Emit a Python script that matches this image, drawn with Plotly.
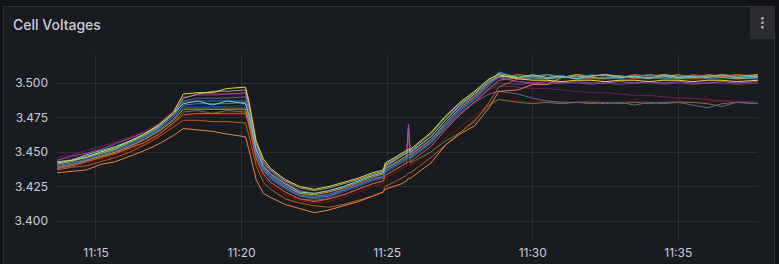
import plotly.graph_objects as go

DAY = "2024-01-01 "

# sample times (HH:MM:SS)
times = ["11:13:40", "11:14:10", "11:14:40", "11:15:10", "11:15:40", "11:16:10", "11:16:40", "11:17:10", "11:17:40",
         "11:18:00", "11:18:30", "11:19:00", "11:19:30", "11:20:08",
         "11:20:15", "11:20:30", "11:20:45", "11:21:00", "11:21:30",
         "11:22:00", "11:22:30", "11:23:00", "11:23:30", "11:24:00", "11:24:30", "11:24:52",
         "11:24:56", "11:25:30", "11:25:40", "11:25:44", "11:25:48",
         "11:26:30", "11:27:00", "11:27:30", "11:28:00", "11:28:30", "11:28:50",
         "11:29:30", "11:30:00", "11:30:30", "11:31:00", "11:31:30", "11:32:00", "11:32:30", "11:33:00",
         "11:33:30", "11:34:00", "11:34:30", "11:35:00", "11:35:30", "11:36:00", "11:36:30", "11:37:00", "11:37:44"]

# cell voltages in mV
cell_dred = [3437, 3439, 3442, 3445, 3448, 3452, 3456, 3462, 3470,
             3476, 3477, 3477, 3477, 3477,
             3468, 3443, 3432, 3426, 3419,
             3415, 3413, 3414, 3417, 3421, 3425, 3427,
             3431, 3438, 3440, 3466, 3440,
             3450, 3460, 3468, 3476, 3485, 3488,
             3487, 3486, 3487, 3486, 3486, 3487, 3486, 3486, 3487, 3486, 3486, 3487, 3486, 3486, 3487, 3486, 3486]
cell_navy = [3440, 3442, 3445, 3448, 3451, 3455, 3459, 3465, 3473,
             3482, 3483, 3483, 3483, 3484,
             3475, 3448, 3436, 3430, 3424,
             3418, 3416, 3418, 3421, 3425, 3429, 3431,
             3435, 3442, 3444, 3445, 3445,
             3456, 3468, 3479, 3487, 3497, 3502,
             3503, 3503, 3502, 3503, 3503, 3502, 3503, 3503, 3502, 3503, 3503, 3502, 3503, 3502, 3503, 3503, 3502]
cell_dgreen = [3438, 3440, 3443, 3446, 3449, 3453, 3457, 3463, 3471,
               3479, 3480, 3478, 3480, 3479,
               3471, 3446, 3434, 3428, 3421,
               3416, 3415, 3416, 3419, 3423, 3427, 3429,
               3433, 3440, 3442, 3467, 3442,
               3450, 3458, 3464, 3473, 3484, 3488,
               3486, 3485, 3486, 3485, 3486, 3486, 3485, 3486, 3484, 3486, 3485, 3486, 3486, 3485, 3483, 3486, 3485]
cell_lavender = [3442, 3445, 3447, 3450, 3454, 3458, 3462, 3468, 3476,
                 3483, 3482, 3482, 3482, 3482,
                 3474, 3448, 3436, 3430, 3423,
                 3418, 3416, 3417, 3421, 3425, 3429, 3431,
                 3435, 3442, 3444, 3445, 3445,
                 3456, 3467, 3478, 3486, 3496, 3500,
                 3499, 3500, 3499, 3500, 3500, 3499, 3500, 3499, 3500, 3500, 3499, 3500, 3499, 3500, 3500, 3499, 3500]
cell_dmagenta = [3446, 3448, 3451, 3454, 3457, 3461, 3465, 3471, 3480,
                 3490, 3491, 3491, 3492, 3492,
                 3482, 3453, 3441, 3435, 3427,
                 3421, 3418, 3420, 3424, 3427, 3431, 3433,
                 3438, 3445, 3447, 3469, 3448,
                 3459, 3470, 3480, 3488, 3495, 3498,
                 3497, 3496, 3496, 3495, 3494, 3493, 3493, 3492, 3491, 3491, 3490, 3489, 3489, 3488, 3487, 3487, 3486]
cell_violet = [3440, 3442, 3445, 3449, 3452, 3456, 3461, 3467, 3476,
               3487, 3489, 3489, 3489, 3490,
               3480, 3451, 3439, 3433, 3426,
               3420, 3418, 3419, 3423, 3427, 3431, 3432,
               3437, 3444, 3446, 3468, 3446,
               3457, 3468, 3478, 3486, 3492, 3494,
               3492, 3489, 3487, 3486, 3486, 3485, 3486, 3485, 3486, 3485, 3486, 3486, 3484, 3482, 3485, 3486, 3485]
cell_dorange = [3437, 3439, 3440, 3443, 3446, 3450, 3455, 3461, 3468,
                3473, 3473, 3472, 3472, 3471,
                3462, 3440, 3428, 3423, 3416,
                3413, 3411, 3410, 3412, 3415, 3418, 3421,
                3425, 3431, 3433, 3435, 3435,
                3446, 3455, 3464, 3472, 3486, 3497,
                3503, 3504, 3503, 3505, 3504, 3503, 3504, 3505, 3503, 3504, 3504, 3505, 3503, 3504, 3505, 3503, 3504]
cell_orange = [3435, 3436, 3437, 3441, 3443, 3447, 3451, 3456, 3462,
               3467, 3466, 3465, 3463, 3461,
               3452, 3430, 3420, 3417, 3412,
               3409, 3406, 3408, 3411, 3414, 3418, 3421,
               3423, 3427, 3429, 3431, 3431,
               3442, 3455, 3463, 3469, 3482, 3494,
               3495, 3499, 3499, 3504, 3506, 3505, 3506, 3504, 3506, 3505, 3506, 3505, 3504, 3506, 3505, 3506, 3505]
cell_red = [3438, 3440, 3443, 3446, 3449, 3453, 3457, 3463, 3471,
            3477, 3478, 3478, 3478, 3478,
            3470, 3445, 3434, 3428, 3421,
            3416, 3414, 3416, 3419, 3423, 3427, 3429,
            3433, 3440, 3442, 3443, 3443,
            3454, 3466, 3477, 3486, 3496, 3502,
            3504, 3505, 3506, 3505, 3504, 3505, 3506, 3505, 3504, 3506, 3505, 3504, 3506, 3505, 3504, 3505, 3506]
cell_gold = [3439, 3441, 3444, 3447, 3450, 3454, 3459, 3465, 3473,
             3481, 3481, 3481, 3481, 3481,
             3473, 3449, 3438, 3432, 3425,
             3420, 3419, 3421, 3424, 3428, 3432, 3434,
             3438, 3445, 3447, 3448, 3448,
             3459, 3471, 3482, 3490, 3500, 3504,
             3506, 3505, 3506, 3504, 3506, 3505, 3506, 3505, 3504, 3506, 3505, 3506, 3504, 3505, 3506, 3505, 3506]
cell_blue2 = [3439, 3441, 3444, 3448, 3451, 3455, 3460, 3466, 3474,
              3484, 3485, 3485, 3485, 3486,
              3476, 3449, 3437, 3431, 3424,
              3418, 3417, 3418, 3422, 3426, 3430, 3432,
              3436, 3443, 3445, 3446, 3446,
              3457, 3469, 3480, 3488, 3498, 3508,
              3504, 3503, 3504, 3505, 3503, 3504, 3504, 3503, 3505, 3504, 3503, 3504, 3505, 3503, 3504, 3504, 3503]
cell_blue = [3441, 3443, 3446, 3449, 3452, 3457, 3461, 3467, 3476,
             3486, 3487, 3487, 3487, 3487,
             3478, 3450, 3438, 3432, 3425,
             3419, 3417, 3419, 3423, 3426, 3430, 3432,
             3437, 3444, 3446, 3447, 3447,
             3458, 3470, 3481, 3489, 3499, 3504,
             3505, 3504, 3506, 3505, 3504, 3506, 3505, 3504, 3505, 3506, 3504, 3505, 3505, 3504, 3506, 3505, 3504]
cell_purple = [3444, 3447, 3449, 3452, 3456, 3460, 3464, 3469, 3477,
               3489, 3492, 3492, 3492, 3493,
               3483, 3454, 3442, 3436, 3428,
               3422, 3420, 3422, 3425, 3429, 3433, 3435,
               3439, 3447, 3449, 3470, 3449,
               3461, 3473, 3483, 3491, 3500, 3504,
               3501, 3500, 3501, 3500, 3501, 3500, 3500, 3501, 3500, 3501, 3500, 3501, 3500, 3500, 3501, 3500, 3501]
cell_lightblue = [3443, 3444, 3448, 3451, 3454, 3458, 3463, 3469, 3478,
                  3485, 3487, 3484, 3487, 3485,
                  3477, 3452, 3440, 3434, 3427,
                  3421, 3420, 3422, 3425, 3429, 3433, 3435,
                  3440, 3447, 3449, 3450, 3450,
                  3461, 3473, 3484, 3492, 3501, 3505,
                  3504, 3506, 3504, 3505, 3503, 3505, 3506, 3504, 3505, 3503, 3506, 3504, 3505, 3504, 3506, 3504, 3505]
cell_green = [3441, 3443, 3447, 3449, 3452, 3457, 3462, 3468, 3478,
              3489, 3492, 3494, 3494, 3495,
              3485, 3456, 3443, 3437, 3429,
              3424, 3422, 3424, 3427, 3430, 3434, 3436,
              3441, 3448, 3450, 3451, 3451,
              3463, 3475, 3485, 3493, 3502, 3507,
              3504, 3505, 3503, 3504, 3505, 3504, 3503, 3505, 3504, 3504, 3505, 3503, 3504, 3505, 3504, 3503, 3504]
cell_yellow = [3442, 3444, 3446, 3450, 3453, 3458, 3463, 3470, 3479,
               3492, 3493, 3493, 3496, 3497,
               3487, 3458, 3445, 3438, 3430,
               3425, 3423, 3425, 3428, 3431, 3435, 3437,
               3442, 3449, 3451, 3452, 3452,
               3464, 3476, 3486, 3494, 3503, 3506,
               3503, 3502, 3502, 3501, 3502, 3502, 3501, 3502, 3502, 3501, 3502, 3502, 3501, 3502, 3502, 3501, 3502]

y_ticks = [3.400, 3.425, 3.450, 3.475, 3.500]
y_tick_labels = ["3.400", "3.425", "3.450", "3.475", "3.500"]
x_ticks = ["11:15", "11:20", "11:25", "11:30", "11:35"]

series = [
    ("Cell 13", "#890F02", cell_dred),
    ("Cell 14", "#0A437C", cell_navy),
    ("Cell 9", "#508642", cell_dgreen),
    ("Cell 16", "#584477", cell_lavender),
    ("Cell 15", "#6D1F62", cell_dmagenta),
    ("Cell 8", "#705DA0", cell_violet),
    ("Cell 12", "#C15C17", cell_dorange),
    ("Cell 4", "#EF843C", cell_orange),
    ("Cell 5", "#E24D42", cell_red),
    ("Cell 10", "#CCA300", cell_gold),
    ("Cell 11", "#447EBC", cell_blue2),
    ("Cell 6", "#1F78C1", cell_blue),
    ("Cell 7", "#BA43A9", cell_purple),
    ("Cell 3", "#6ED0E0", cell_lightblue),
    ("Cell 1", "#7EB26D", cell_green),
    ("Cell 2", "#EDD93A", cell_yellow),
]

W, H = 779, 264
ML, MR, MT, MB = 56, 21, 55, 25
PW, PH = W - ML - MR, H - MT - MB


def px(x):
    return (x - ML) / PW


def py(y):
    return (H - MB - y) / PH


xs = [DAY + t for t in times]

fig = go.Figure()
for name, color, vals in series:
    fig.add_trace(go.Scatter(
        x=xs, y=[v / 1000 for v in vals], mode="lines", name=name,
        line=dict(color=color, width=1), hoverinfo="skip", showlegend=False))

grid = "#2b2f33"
font = dict(family="Inter, Roboto, sans-serif", size=12, color="#ccccdc")

fig.update_layout(
    width=W, height=H,
    margin=dict(l=ML, r=MR, t=MT, b=MB, pad=0, autoexpand=False),
    paper_bgcolor="#111217",
    plot_bgcolor="#181b1f",
    font=font,
    showlegend=False,
    xaxis=dict(
        type="date",
        range=[DAY + "11:13:37.6", DAY + "11:37:44.2"],
        tickvals=[DAY + t for t in x_ticks],
        ticktext=x_ticks,
        showgrid=True, gridcolor=grid, gridwidth=1,
        zeroline=False, showline=False, ticks="",
        ticklabelstandoff=5, automargin=False,
    ),
    yaxis=dict(
        range=[3.38696, 3.52029],
        tickvals=y_ticks,
        ticktext=y_tick_labels,
        showgrid=True, gridcolor=grid, gridwidth=1,
        zeroline=False, showline=False, ticks="",
        ticklabelstandoff=7, automargin=False,
    ),
    shapes=[
        dict(type="rect", xref="paper", yref="paper",
             x0=px(3.5), x1=px(774.5), y0=py(280), y1=py(6.5),
             fillcolor="#181b1f", line=dict(color="#2c2e34", width=1), layer="below"),
        dict(type="rect", xref="paper", yref="paper",
             x0=px(750), x1=px(774), y0=py(39), y1=py(7),
             fillcolor="#2a2c31", line=dict(width=0), layer="above"),
    ] + [
        dict(type="rect", xref="paper", yref="paper",
             x0=px(761.2), x1=px(763.6), y0=py(cy + 1.2), y1=py(cy - 1.2),
             fillcolor="#b4b4be", line=dict(width=0), layer="above")
        for cy in (18.3, 22.8, 27.3)
    ],
    annotations=[
        dict(text="Cell Voltages", xref="paper", yref="paper",
             x=px(10.5), y=py(24), xanchor="left", yanchor="middle", showarrow=False,
             font=dict(family="Inter, Roboto, sans-serif", size=14, color="#ccccdc", weight=500)),
    ],
)

fig.write_html("out.html")
